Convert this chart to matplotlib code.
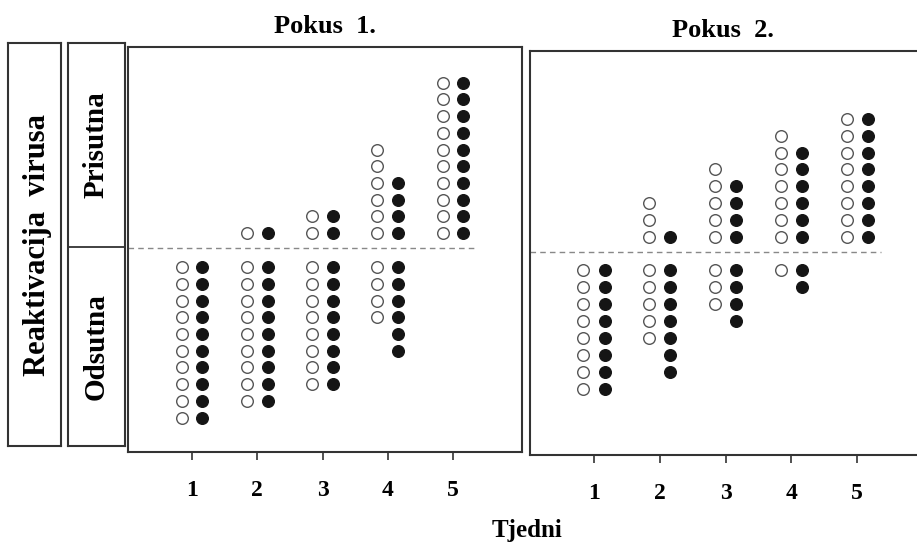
import matplotlib.pyplot as plt

weeks = [1, 2, 3, 4, 5]
week_labels = ["1", "2", "3", "4", "5"]

# Pokus 1 - counts of animals per week (open / filled circles)
p1_present_open = [0, 1, 2, 6, 10]
p1_present_filled = [0, 1, 2, 4, 10]
p1_absent_open = [10, 9, 8, 4, 0]
p1_absent_filled = [10, 9, 8, 6, 0]

# Pokus 2
p2_present_open = [0, 3, 5, 7, 8]
p2_present_filled = [0, 1, 4, 6, 8]
p2_absent_open = [8, 5, 3, 1, 0]
p2_absent_filled = [8, 7, 4, 2, 0]

W, H = 917, 549
SERIF = ["Liberation Serif", "DejaVu Serif"]
LINE = "#333333"


def px_axes(fig, left, top, right, bottom):
    return fig.add_axes([left / W, 1 - bottom / H, (right - left) / W, (bottom - top) / H])


def draw_panel(ax, pres_open, pres_fill, abs_open, abs_fill, xlim, ylim, up0, down0, title):
    off = 0.16
    for wk, po, pf, ao, af in zip(weeks, pres_open, pres_fill, abs_open, abs_fill):
        ys = [up0 + i for i in range(po)]
        ax.scatter([wk - off] * po, ys, s=70, facecolors="white", edgecolors="#555555", linewidths=1.0, zorder=3)
        ys = [up0 + i for i in range(pf)]
        ax.scatter([wk + off] * pf, ys, s=70, color="#151515", zorder=3)
        ys = [-down0 - i for i in range(ao)]
        ax.scatter([wk - off] * ao, ys, s=70, facecolors="white", edgecolors="#555555", linewidths=1.0, zorder=3)
        ys = [-down0 - i for i in range(af)]
        ax.scatter([wk + off] * af, ys, s=70, color="#151515", zorder=3)
    ax.hlines(0, xlim[0], weeks[-1] + 0.37, colors="#888888", linestyles=(0, (4, 3)), linewidth=1.0)
    ax.set_xlim(*xlim)
    ax.set_ylim(*ylim)
    ax.set_yticks([])
    ax.set_xticks(weeks)
    ax.set_xticklabels(week_labels, fontfamily=SERIF, fontweight="bold", fontsize=17)
    ax.tick_params(axis="x", direction="out", length=6, width=1.2, color=LINE, pad=14)
    for sp in ax.spines.values():
        sp.set_color(LINE)
        sp.set_linewidth(1.5)
    ax.set_title(title, fontfamily=SERIF, fontweight="bold", fontsize=19, pad=10)


fig = plt.figure(figsize=(W / 100, H / 100), dpi=100)

ax1 = px_axes(fig, 128, 47, 522, 452)
draw_panel(ax1, p1_present_open, p1_present_filled, p1_absent_open, p1_absent_filled,
           (0.019, 6.057), (-12.2, 12.04), 0.9, 1.14, "Pokus  1.")

ax2 = px_axes(fig, 530, 51, 932, 455)
draw_panel(ax2, p2_present_open, p2_present_filled, p2_absent_open, p2_absent_filled,
           (0.027, 6.14), (-12.0, 11.9), 0.89, 1.07, "Pokus  2.")
ax2.title.set_position((0.48, 1.0))

# left label boxes
axa = px_axes(fig, 8, 43, 61, 446)
axb = px_axes(fig, 68, 43, 125, 446)
for a in (axa, axb):
    a.set_xticks([])
    a.set_yticks([])
    a.set_xlim(0, 1)
    a.set_ylim(0, 1)
    for sp in a.spines.values():
        sp.set_color(LINE)
        sp.set_linewidth(1.5)

axa.text(0.55, 0.5, "Reaktivacija  virusa", rotation=90, ha="center", va="center",
         fontfamily=SERIF, fontweight="bold", fontsize=22)
split = (446 - 247) / (446 - 43)
axb.axhline(split, color=LINE, linewidth=1.3)
axb.text(0.5, split + (1 - split) / 2, "Prisutna", rotation=90, ha="center", va="center",
         fontfamily=SERIF, fontweight="bold", fontsize=21)
axb.text(0.5, split / 2, "Odsutna", rotation=90, ha="center", va="center",
         fontfamily=SERIF, fontweight="bold", fontsize=21)

fig.text(527 / W, 1 - 530 / H, "Tjedni", ha="center", va="center",
         fontfamily=SERIF, fontweight="bold", fontsize=18)

fig.savefig("out.png", dpi=100)
